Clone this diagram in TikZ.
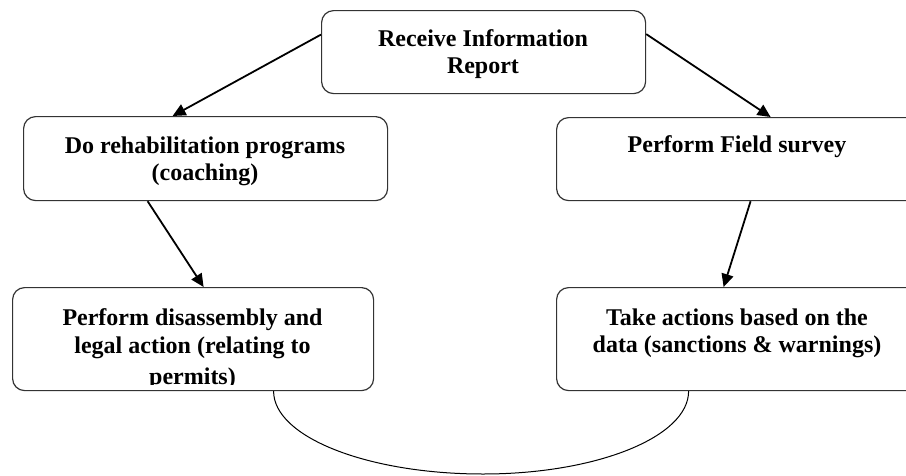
\documentclass[tikz,border=0pt]{standalone}
\usepackage{fontspec}
\setmainfont{Liberation Serif}
\usetikzlibrary{arrows.meta}
\begin{document}
\begin{tikzpicture}[x=1pt,y=-1pt,
  box/.style={draw=black!80, line width=1.2pt, rounded corners=12pt, inner sep=0pt, anchor=north west},
  lbl/.style={anchor=base, inner sep=0pt, font=\fontsize{24}{27.5}\selectfont\bfseries},
  arr/.style={line width=1.8pt, -{Triangle[length=13pt,width=12pt]}},
  conn/.style={line width=1pt}]
\useasboundingbox (0,0) rectangle (906,475);
\clip (0,0) rectangle (906,475);
% boxes
\node[box, minimum width=324pt, minimum height=83pt] (top) at (321,10) {};
\node[box, minimum width=364pt, minimum height=84pt] (left) at (23,116) {};
\node[box, minimum width=362pt, minimum height=83pt] (right) at (556,117) {};
\node[box, minimum width=361pt, minimum height=103pt] (bl) at (12,287) {};
\node[box, minimum width=362pt, minimum height=103pt] (br) at (556,287) {};
% texts
\node[lbl] (ttop) at (483,46) {\begin{tabular}[t]{@{}c@{}}Receive Information\\ Report\end{tabular}};
\node[lbl] (tleft) at (205,153) {\begin{tabular}[t]{@{}c@{}}Do rehabilitation programs\\ (coaching)\end{tabular}};
\node[lbl] (tright) at (737,152) {Perform Field survey};
\begin{scope}
\clip (12,287) rectangle (373,384);
\node[lbl] (tbl) at (192.5,325) {\begin{tabular}[t]{@{}c@{}}Perform disassembly and\\[1pt] legal action (relating to\\[3pt] permits)\end{tabular}};
\end{scope}
\node[lbl] (tbr) at (737,325) {\begin{tabular}[t]{@{}c@{}}Take actions based on the\\ data (sanctions \& warnings)\end{tabular}};
% arrows
\draw[arr] ([yshift=17.5pt]top.west) -- ([xshift=-33pt]left.north);
\draw[arr] ([yshift=18pt]top.east) -- ([xshift=33pt]right.north);
\draw[arr] ([xshift=-58pt]left.south) -- ([xshift=10.5pt]bl.north);
\draw[arr] ([xshift=13pt]right.south) -- ([xshift=-14pt]br.north);
% bottom curve
\coordinate (c1) at ([xshift=80.5pt]bl.south);
\coordinate (c2) at ([xshift=-49pt]br.south);
\coordinate (cm) at (483,474);
\draw[conn] (c1) .. controls +(0,46) and +(-115,0) .. (cm) .. controls +(113,0) and +(0,46) .. (c2);
\end{tikzpicture}
\end{document}
